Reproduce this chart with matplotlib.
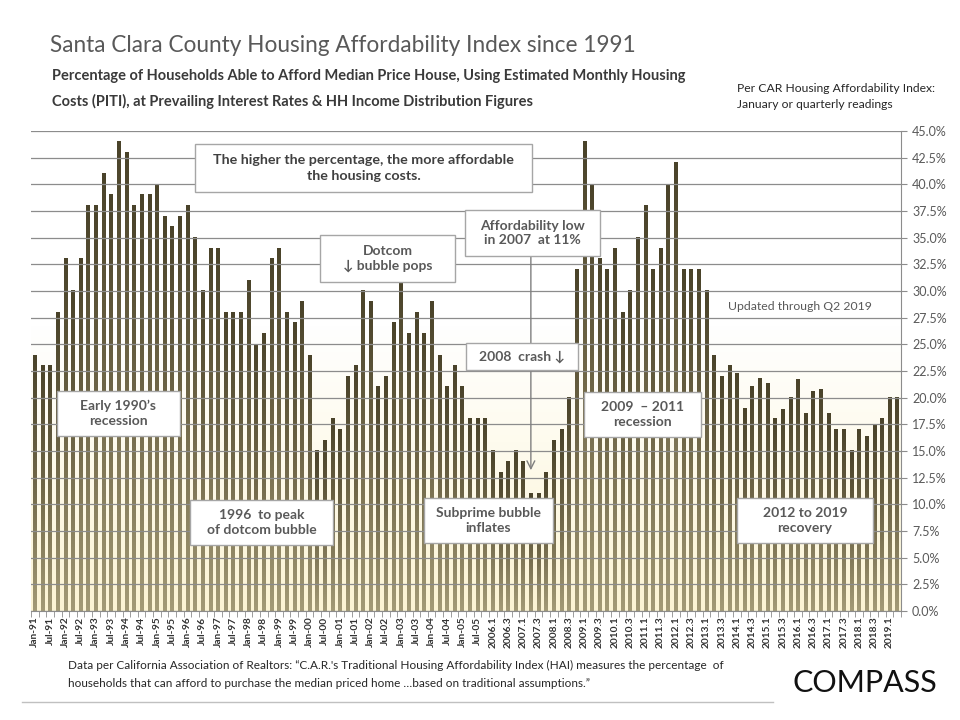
import numpy as np
import matplotlib.pyplot as plt
from matplotlib.colors import LinearSegmentedColormap
from matplotlib.patches import Rectangle
from matplotlib.lines import Line2D

# quarterly readings, Q1 1991 .. Q2 2019 (percent of households able to afford median home)
hai = [24, 23, 23, 28, 33, 30, 33, 38, 38, 41, 39, 44, 43, 38, 39, 39,
       40, 37, 36, 37, 38, 35, 30, 34, 34, 28, 28, 28, 31, 25, 26, 33,
       34, 28, 27, 29, 24, 15, 16, 18, 17, 22, 23, 30, 29, 21, 22, 27,
       31, 26, 28, 26, 29, 24, 21, 23, 21, 18, 18, 18, 15, 13, 14, 15,
       14, 11, 11, 13, 16, 17, 20, 32, 44, 40, 33, 32, 34, 28, 30, 35,
       38, 32, 34, 40, 42, 32, 32, 32, 30, 24, 22, 23, 22.3, 19, 21, 21.8,
       21.3, 18, 18.9, 20, 21.7, 18.5, 20.6, 20.8, 18.5, 17, 17, 15, 17, 16.4,
       17.5, 18, 20, 20]

# one label every second bar
tick_labels = ['Jan-91', 'Jul-91', 'Jan-92', 'Jul-92', 'Jan-93', 'Jul-93', 'Jan-94', 'Jul-94',
               'Jan-95', 'Jul-95', 'Jan-96', 'Jul-96', 'Jan-97', 'Jul-97', 'Jan-98', 'Jul-98',
               'Jan-99', 'Jul-99', 'Jan-00', 'Jul-00', 'Jan-01', 'Jul-01', 'Jan-02', 'Jul-02',
               'Jan-03', 'Jul-03', 'Jan-04', 'Jul-04', 'Jan-05', 'Jul-05',
               '2006.1', '2006.3', '2007.1', '2007.3', '2008.1', '2008.3', '2009.1', '2009.3',
               '2010.1', '2010.3', '2011.1', '2011.3', '2012.1', '2012.3', '2013.1', '2013.3',
               '2014.1', '2014.3', '2015.1', '2015.3', '2016.1', '2016.3', '2017.1', '2017.3',
               '2018.1', '2018.3', '2019.1']

yticks = np.arange(0, 45.1, 2.5)

plt.rcParams['font.family'] = ['Lato', 'DejaVu Sans']

W, H = 960, 720
fig = plt.figure(figsize=(9.6, 7.2), dpi=100)
fig.patch.set_facecolor('white')
ax = fig.add_axes([31/W, 1-611/H, 870/W, 480/H])

n = len(hai)
x = np.arange(n)

bar_cmap = LinearSegmentedColormap.from_list('bar', ['#a39a76', '#706748', '#4a432a'])
bg_cmap = LinearSegmentedColormap.from_list('bg', [(0, '#fcf4d4'), (0.35, '#fefbee'),
                                                   (0.6, '#ffffff'), (1, '#ffffff')])
grad = np.linspace(0, 1, 128).reshape(-1, 1)

ax.imshow(grad, extent=[-0.5, n-0.5, 0, 45], origin='lower', cmap=bg_cmap,
          aspect='auto', zorder=0)

bars = ax.bar(x, hai, width=0.46, color='none', edgecolor='none', zorder=2)
for r in bars:
    ax.imshow(grad, extent=[r.get_x(), r.get_x()+r.get_width(), 0, r.get_height()],
              origin='lower', cmap=bar_cmap, aspect='auto', zorder=2,
              interpolation='bilinear')

ax.set_xlim(-0.5, n-0.5)
ax.set_ylim(0, 45)

# grid sits over the bars like in the original
ax.set_axisbelow(False)
ax.yaxis.tick_right()
ax.set_yticks(yticks)
ax.set_yticklabels(['%.1f%%' % v for v in yticks])
ax.yaxis.grid(True, color='#8c8c8c', lw=0.9)
ax.tick_params(axis='y', which='major', labelsize=9, labelcolor='#595959',
               color='#8c8c8c', length=4, pad=4)

ax.set_xticks(x[::2])
ax.set_xticklabels(tick_labels, rotation=90, fontsize=7.3, fontweight='bold', color='#333333')
ax.set_xticks(np.arange(-0.5, n, 1), minor=True)
ax.tick_params(axis='x', which='major', length=0, pad=4)
ax.tick_params(axis='x', which='minor', length=4, color='#8c8c8c')

for s in ['left', 'top']:
    ax.spines[s].set_visible(False)
for s in ['right', 'bottom']:
    ax.spines[s].set_color('#8c8c8c')

# arrow to the 2007 low
ax.annotate('', xy=(65, 13.2), xytext=(65, 33.3),
            arrowprops=dict(arrowstyle='->', color='#7f7f7f', lw=1,
                            shrinkA=0, shrinkB=0, mutation_scale=14), zorder=4)


def box(x0, y0, x1, y1, text, color='#595959', size=10):
    fig.add_artist(Rectangle((x0/W, 1-y1/H), (x1-x0)/W, (y1-y0)/H, transform=fig.transFigure,
                             facecolor='white', edgecolor='#a6a6a6', lw=1, zorder=5))
    fig.text((x0+x1)/2/W, 1-(y0+y1)/2/H, text, ha='center', va='center', ma='center',
             fontsize=size, fontweight='bold', color=color, zorder=6, linespacing=1.3)


box(195, 144, 532, 192, 'The higher the percentage, the more affordable\nthe housing costs.',
    color='#404040', size=10.3)
box(320, 235, 455, 282, 'Dotcom\n\u2193 bubble pops')
box(465, 210, 600, 256, 'Affordability low\nin 2007  at 11%')
box(466, 343, 578, 370, '2008  crash \u2193')
box(57, 391, 180, 436, 'Early 1990\u2019s\nrecession')
box(190, 500, 333, 545, '1996  to peak\nof dotcom bubble')
box(424, 498, 553, 543, 'Subprime bubble\ninflates')
box(584, 392, 701, 437, '2009  \u2013 2011\nrecession')
box(737, 498, 873, 543, '2012 to 2019\nrecovery')

fig.text(800/W, 1-307/H, 'Updated through Q2 2019', ha='center', va='center',
         fontsize=8.8, color='#595959')

# titles
fig.text(50/W, 1-52/H, 'Santa Clara County Housing Affordability Index since 1991',
         fontsize=16.3, color='#595959', va='baseline')
fig.text(52/W, 1-80/H, 'Percentage of Households Able to Afford Median Price House, Using Estimated Monthly Housing',
         fontsize=10.5, fontweight='bold', color='#3a3a3a', va='baseline')
fig.text(52/W, 1-106/H, 'Costs (PITI), at Prevailing Interest Rates & HH Income Distribution Figures',
         fontsize=10.5, fontweight='bold', color='#3a3a3a', va='baseline')
fig.text(737/W, 1-92/H, 'Per CAR Housing Affordability Index:', fontsize=8.7, color='#262626', va='baseline')
fig.text(737/W, 1-108/H, 'January or quarterly readings', fontsize=8.7, color='#262626', va='baseline')

fig.text(68/W, 1-669/H, 'Data per California Association of Realtors: \u201cC.A.R.\'s Traditional Housing '
         'Affordability Index (HAI) measures the percentage  of', fontsize=8.5, color='#262626', va='baseline')
fig.text(68/W, 1-687/H, 'households that can afford to purchase the median priced home \u2026based on '
         'traditional assumptions.\u201d', fontsize=8.5, color='#262626', va='baseline')

fig.add_artist(Line2D([22/W, 773/W], [1-702/H, 1-702/H], color='#c0c0c0', lw=1))
fig.text(792/W, 1-692/H, 'COMPASS', fontsize=22, color='#111111', va='baseline')

fig.savefig('out.png', dpi=100)
plt.close()
